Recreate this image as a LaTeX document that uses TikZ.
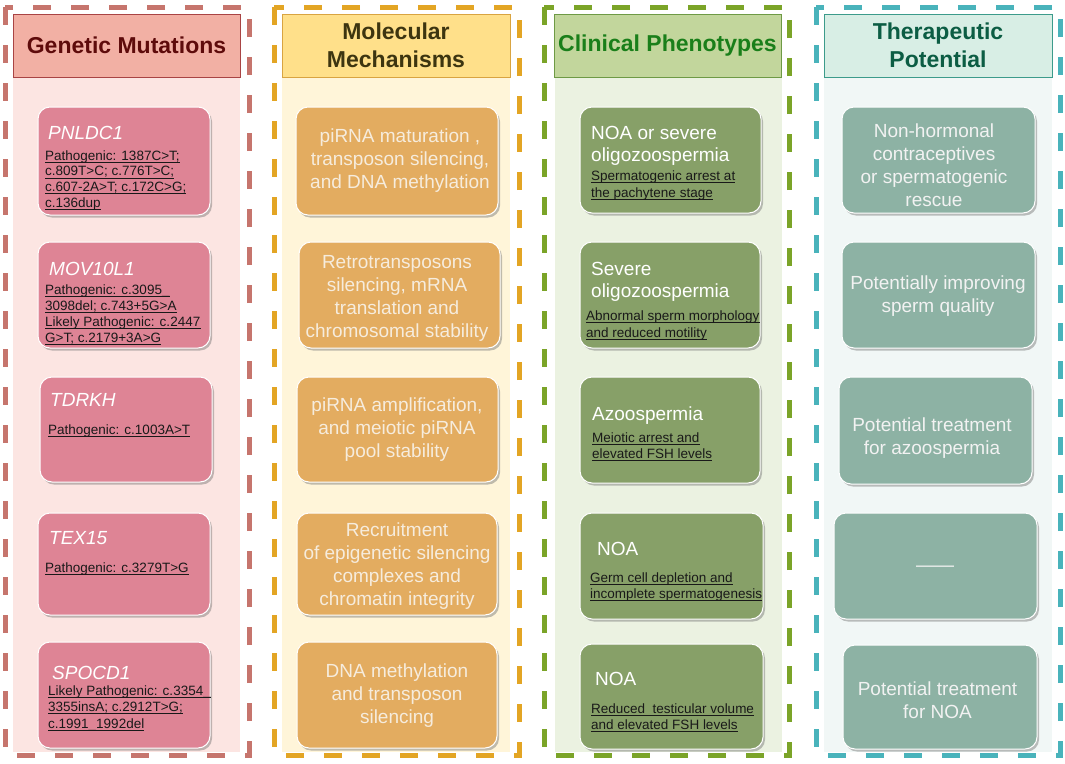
\documentclass[tikz,border=0pt]{standalone}
\usepackage{fontspec}
\setmainfont{Liberation Sans}
\usetikzlibrary{shadows}
\definecolor{cAdash}{HTML}{C6756D}
\definecolor{cAhead}{HTML}{F2B0A4}
\definecolor{cAhb}{HTML}{A94444}
\definecolor{cAtxt}{HTML}{5E0B0B}
\definecolor{cApanel}{HTML}{FCE5E2}
\definecolor{cAbox}{HTML}{DE8495}
\definecolor{cBdash}{HTML}{E3A524}
\definecolor{cBhead}{HTML}{FFE08A}
\definecolor{cBhb}{HTML}{D9A441}
\definecolor{cBtxt}{HTML}{3D3510}
\definecolor{cBpanel}{HTML}{FFF5D9}
\definecolor{cBbox}{HTML}{E3AC60}
\definecolor{cBbt}{HTML}{F6ECDD}
\definecolor{cCdash}{HTML}{7BA428}
\definecolor{cChead}{HTML}{C2D69C}
\definecolor{cChb}{HTML}{6E9A45}
\definecolor{cCtxt}{HTML}{1A7F1A}
\definecolor{cCpanel}{HTML}{EBF2E1}
\definecolor{cCbox}{HTML}{87A068}
\definecolor{cDdash}{HTML}{49B3BB}
\definecolor{cDhead}{HTML}{D8EEE5}
\definecolor{cDhb}{HTML}{3C9B8B}
\definecolor{cDtxt}{HTML}{0C5D44}
\definecolor{cDpanel}{HTML}{F1F7F6}
\definecolor{cDbox}{HTML}{8DB2A4}
\definecolor{cDbt}{HTML}{F2F2F2}
\tikzset{
  frame/.style={line width=5pt, dash pattern=on 18pt off 20pt},
  head/.style={line width=1pt, font=\fontsize{23}{28}\selectfont\bfseries, align=center, inner sep=0pt, minimum width=227pt, minimum height=63pt},
  card/.style={rounded corners=12pt, draw=white, line width=1pt, inner sep=0pt,
    drop shadow={shadow xshift=2pt, shadow yshift=-2.5pt, fill=black!55, opacity=0.45}},
  big/.style={font=\fontsize{19}{23}\selectfont, align=center, inner sep=0pt},
  bigl/.style={font=\fontsize{19}{23}\selectfont, anchor=base west, inner sep=0pt, text=white},
  gname/.style={font=\fontsize{19}{23}\selectfont\itshape, text=white, anchor=base west, inner sep=0pt},
  mut/.style={font=\fontsize{13.5}{16}\selectfont, anchor=base west, inner sep=0pt, text=black!90},
  uline/.style={line width=0.8pt, black!90},
}
\newcommand\mutlines[4]{%
  \foreach \t [count=\i from 0] in {#4} {%
    \node[mut] (ml\i) at (#1,{#2+#3*\i}) {\t};
    \draw[uline] ([yshift=-2.3pt]ml\i.base west) -- ([yshift=-2.3pt]ml\i.base east);}}
\begin{document}
\begin{tikzpicture}[x=1pt,y=-1pt]
\useasboundingbox (0,0) rectangle (1065,763);
% ---------- column 1
\draw[frame, cAdash] (5,7) rectangle (249,755);
\fill[cApanel] (13,77) rectangle (240,752);
\node[head, fill=cAhead, draw=cAhb, text=cAtxt] (h1) at (126.5,45.5) {Genetic Mutations};
\node[card, fill=cAbox, minimum width=172pt, minimum height=108pt] (a1) at (124,161) {};
\node[card, fill=cAbox, minimum width=172pt, minimum height=106pt] (a2) at (124,295) {};
\node[card, fill=cAbox, minimum width=172pt, minimum height=105pt] (a3) at (126,429.5) {};
\node[card, fill=cAbox, minimum width=172pt, minimum height=102pt] (a4) at (124,564) {};
\node[card, fill=cAbox, minimum width=172pt, minimum height=106pt] (a5) at (124,695) {};
\node[gname] (a1n) at (48,139) {PNLDC1};
\mutlines{45}{160}{15.7}{{Pathogenic: 1387C>T;\ },{c.809T>C; c.776T>C;\ },{c.607-2A>T; c.172C>G;},{c.136dup}}
\node[gname] (a2n) at (49,275) {MOV10L1};
\mutlines{45}{294}{16}{{Pathogenic: c.3095\_},{3098del; c.743+5G>A\ },{Likely Pathogenic: c.2447},{G>T; c.2179+3A>G}}
\node[gname] (a3n) at (50,406) {TDRKH};
\mutlines{48}{434}{16}{{Pathogenic: c.1003A>T}}
\node[gname] (a4n) at (49,544) {TEX15};
\mutlines{45}{572}{16}{{Pathogenic: c.3279T>G}}
\node[gname] (a5n) at (52,679) {SPOCD1};
\mutlines{48}{695}{16.5}{{Likely Pathogenic: c.3354\_},{3355insA; c.2912T>G;\ },{c.1991\_1992del}}
% ---------- column 2
\draw[frame, cBdash] (274,7) rectangle (519,755);
\fill[cBpanel] (282,77) rectangle (510,752);
\node[head, fill=cBhead, draw=cBhb, text=cBtxt, minimum width=228pt] (h2) at (396,45.5) {Molecular\\Mechanisms};
\node[card, fill=cBbox, minimum width=202pt, minimum height=108pt] (b1) at (397,161) {};
\node[card, fill=cBbox, minimum width=201pt, minimum height=106pt] (b2) at (399.5,295) {};
\node[card, fill=cBbox, minimum width=201pt, minimum height=105pt] (b3) at (397.5,429.5) {};
\node[card, fill=cBbox, minimum width=200pt, minimum height=102pt] (b4) at (397,564) {};
\node[card, fill=cBbox, minimum width=200pt, minimum height=106pt] (b5) at (397,695) {};
\node[big, text=cBbt] (b1t) at (400,161) {piRNA maturation ,\\transposon silencing,\\and DNA methylation};
\node[big, text=cBbt] (b2t) at (397,298) {Retrotransposons\\silencing, mRNA\\translation and\\chromosomal stability};
\node[big, text=cBbt] (b3t) at (397,430) {piRNA amplification,\\and meiotic piRNA\\pool stability};
\node[big, text=cBbt] (b4t) at (397,566) {Recruitment\\of epigenetic silencing\\complexes and\\chromatin integrity};
\node[big, text=cBbt] (b5t) at (397,696) {DNA methylation\\and transposon\\silencing};
% ---------- column 3
\draw[frame, cCdash] (544,7) rectangle (789,755);
\fill[cCpanel] (555,77) rectangle (782,752);
\node[head, fill=cChead, draw=cChb, text=cCtxt] (h3) at (667.5,45.5) {Clinical Phenotypes};
\node[card, fill=cCbox, minimum width=181pt, minimum height=106pt] (c1) at (670.5,160) {};
\node[card, fill=cCbox, minimum width=180pt, minimum height=106pt] (c2) at (670,295) {};
\node[card, fill=cCbox, minimum width=180pt, minimum height=106pt] (c3) at (670,430) {};
\node[card, fill=cCbox, minimum width=183pt, minimum height=106pt] (c4) at (671.5,566) {};
\node[card, fill=cCbox, minimum width=183pt, minimum height=105pt] (c5) at (671.5,696.5) {};
\node[bigl] (c1a) at (591,139) {NOA or severe};
\node[bigl] (c1b) at (591,161) {oligozoospermia};
\mutlines{591}{180}{17}{{Spermatogenic arrest at},{the pachytene stage}}
\node[bigl] (c2a) at (591,275) {Severe};
\node[bigl] (c2b) at (591,297) {oligozoospermia};
\mutlines{586}{320}{17}{{Abnormal sperm morphology},{and reduced motility}}
\node[bigl] (c3a) at (592,420) {Azoospermia};
\mutlines{592}{442}{16.5}{{Meiotic arrest and},{elevated FSH levels}}
\node[bigl] (c4a) at (597,555) {NOA};
\mutlines{590}{582}{16.5}{{Germ cell depletion and\ },{incomplete spermatogenesis}}
\node[bigl] (c5a) at (595,685) {NOA};
\mutlines{591}{713}{16}{{Reduced\ \ testicular volume\ },{and elevated FSH levels}}
% ---------- column 4
\draw[frame, cDdash] (816,7) rectangle (1060,755);
\fill[cDpanel] (824,77) rectangle (1052,752);
\node[head, fill=cDhead, draw=cDhb, text=cDtxt, minimum width=228pt] (h4) at (938,45.5) {Therapeutic\\Potential};
\node[card, fill=cDbox, minimum width=193pt, minimum height=106pt] (d1) at (938.5,160) {};
\node[card, fill=cDbox, minimum width=193pt, minimum height=106pt] (d2) at (938.5,295) {};
\node[card, fill=cDbox, minimum width=193pt, minimum height=107pt] (d3) at (935.5,430.5) {};
\node[card, fill=cDbox, minimum width=203pt, minimum height=106pt] (d4) at (935.5,566) {};
\node[card, fill=cDbox, minimum width=194pt, minimum height=104pt] (d5) at (940,697) {};
\node[big, text=cDbt] (d1t) at (934,165) {Non-hormonal\\contraceptives\\or spermatogenic\\rescue};
\node[big, text=cDbt] (d2t) at (938,296) {Potentially improving\\sperm quality};
\node[big, text=cDbt] (d3t) at (932,438) {Potential treatment\\for azoospermia};
\node[big, text=cDbt] (d4t) at (935,569) {——};
\node[big, text=cDbt] (d5t) at (937.5,700) {Potential treatment\\for NOA};
\end{tikzpicture}
\end{document}
